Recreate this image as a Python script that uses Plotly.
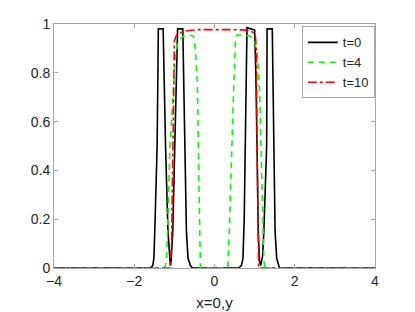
import plotly.graph_objects as go

# t=0 (black solid)
x_t0 = [-4, -1.6, -1.54, -1.51, -1.48, -1.43, -1.41, -1.40, -1.28, -1.26, -1.22, -1.16, -1.12, -1.10,
        -1.08, -1.04, -0.99, -0.94, -0.92, -0.79, -0.77, -0.74, -0.70, -0.66, -0.60, -0.55,
        0.60, 0.67, 0.71, 0.74, 0.77, 0.79, 0.81, 1.00, 1.03, 1.06, 1.09, 1.12, 1.15,
        1.20, 1.23, 1.30, 1.31, 1.44, 1.46, 1.48, 1.51, 1.55, 1.62, 4]
y_t0 = [0, 0, 0.01, 0.04, 0.2, 0.5, 0.8, 0.98, 0.98, 0.8, 0.5, 0.15, 0.03, 0.01,
        0.03, 0.15, 0.5, 0.8, 0.98, 0.98, 0.8, 0.5, 0.15, 0.04, 0.01, 0,
        0, 0.01, 0.04, 0.2, 0.5, 0.8, 0.985, 0.975, 0.8, 0.5, 0.15, 0.03, 0.01,
        0.05, 0.15, 0.5, 0.98, 0.98, 0.8, 0.5, 0.15, 0.04, 0, 0]

# t=4 (green dashed)
x_t4 = [-4, -1.24, -1.2, -1.17, -1.11, -1.03, -0.97, -0.9, -0.78, -0.65, -0.52, -0.48, -0.43, -0.37, -0.35,
        0.33, 0.37, 0.48, 0.52, 0.56, 0.7, 0.9, 1.0, 1.06, 1.1, 1.13, 1.16, 1.2, 1.23, 1.26, 4]
y_t4 = [0, 0, 0.03, 0.15, 0.5, 0.75, 0.88, 0.93, 0.95, 0.955, 0.95, 0.9, 0.77, 0.17, 0,
        0, 0.16, 0.75, 0.93, 0.955, 0.955, 0.95, 0.93, 0.88, 0.8, 0.69, 0.5, 0.2, 0.03, 0, 0]

# t=10 (red dash-dot)
x_t10 = [-4, -1.1, -1.07, -1.04, -1.02, -1.0, -0.95, -0.77, -0.4, 0, 0.4, 0.8, 0.9, 1.0, 1.02,
         1.04, 1.05, 1.06, 1.08, 1.1, 4]
y_t10 = [0, 0, 0.1, 0.5, 0.85, 0.93, 0.955, 0.97, 0.977, 0.978, 0.977, 0.975, 0.972, 0.96, 0.95,
         0.9, 0.8, 0.5, 0.1, 0, 0]

x_ticks = [-4, -2, 0, 2, 4]
y_ticks = [0, 0.2, 0.4, 0.6, 0.8, 1]

fig = go.Figure()
fig.add_trace(go.Scatter(x=x_t0, y=y_t0, mode="lines", name="t=0",
                         line=dict(color="black", width=1.6)))
fig.add_trace(go.Scatter(x=x_t4, y=y_t4, mode="lines", name="t=4",
                         line=dict(color="#00ff00", width=1.6, dash="6px,5px")))
fig.add_trace(go.Scatter(x=x_t10, y=y_t10, mode="lines", name="t=10",
                         line=dict(color="#ff0000", width=1.6, dash="dashdot")))

axis_common = dict(showgrid=False, zeroline=False, showline=True, mirror="ticks",
                   linecolor="#a6a6a6", linewidth=1, ticks="inside", ticklen=4,
                   tickcolor="#a6a6a6", tickfont=dict(size=14, color="#262626"))

fig.update_layout(
    width=415, height=312,
    margin=dict(l=46, r=48, t=16, b=52, autoexpand=False),
    paper_bgcolor="white", plot_bgcolor="white",
    font=dict(family="Liberation Sans, Arial, sans-serif", color="#262626"),
    xaxis=dict(range=[-4, 4], tickvals=x_ticks, automargin=False,
               title=dict(text="x=0,y", font=dict(size=15, color="#262626"), standoff=9),
               **axis_common),
    yaxis=dict(range=[0, 1], tickvals=y_ticks, automargin=False, **axis_common),
    legend=dict(x=0.772, y=0.99, xanchor="left", yanchor="top",
                bordercolor="#a6a6a6", borderwidth=1, bgcolor="white",
                font=dict(size=13, color="#262626"),
                tracegroupgap=0, itemwidth=30),
    showlegend=True,
)

fig.write_html("out.html")
